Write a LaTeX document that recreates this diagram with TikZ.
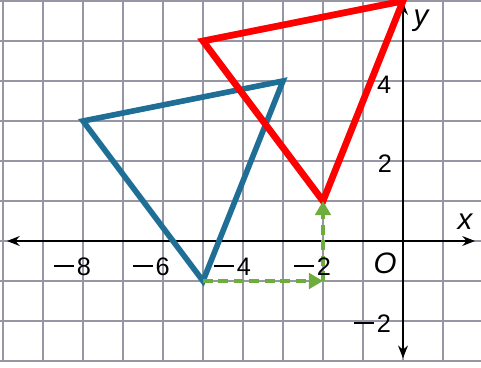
\documentclass[tikz,border=0pt]{standalone}
\usepackage{fontspec}
\setmainfont{Liberation Sans}
\usetikzlibrary{arrows.meta}
\definecolor{gridgray}{RGB}{150,150,165}
\definecolor{triblue}{RGB}{30,110,150}
\definecolor{trired}{RGB}{255,0,0}
\definecolor{arrgreen}{RGB}{110,172,60}
\newcommand{\mn}{\rule[5.4pt]{14pt}{2pt}\kern2pt}
\tikzset{
  gridline/.style={gridgray, line width=1pt},
  axis/.style={black, line width=1pt, -{Stealth[length=9pt,width=7pt]}},
  lbl/.style={font=\fontsize{18}{21}\selectfont, inner sep=0pt, anchor=base},
  ilbl/.style={font=\fontsize{21}{24}\selectfont\itshape, inner sep=0pt, anchor=base},
  blutri/.style={triblue, line width=4pt, line join=miter},
  redtri/.style={trired, line width=4.8pt, line join=miter},
  movearrow/.style={arrgreen, line width=2.5pt, dash pattern=on 7pt off 4pt, -{Triangle[length=10pt,width=11pt]}}
}
\begin{document}
\begin{tikzpicture}[x=1cm,y=1cm]
\useasboundingbox (-10.075,-3.175) rectangle (1.95,6.025);
\fill[white] (-10.075,-3.175) rectangle (1.95,6.025);
\begin{scope}
\clip (-10.075,-3.175) rectangle (1.95,6.025);
\foreach \i in {-10,...,1} \draw[gridline] (\i,-3) -- (\i,6.1);
\foreach \j in {-3,...,6} \draw[gridline] (-10.1,\j) -- (2,\j);
\end{scope}
% axes
\coordinate (xl) at (-9.9,0);
\coordinate (xr) at (1.8,0);
\coordinate (yb) at (0,-2.93);
\coordinate (yt) at (0,5.97);
\draw[axis] (0,0) -- (xl);
\draw[axis] (0,0) -- (xr);
\draw[axis] (0,0) -- (yb);
\draw[axis] (0,0) -- (yt);
% blue triangle
\coordinate (A) at (-8,3);
\coordinate (B) at (-3,4);
\coordinate (C) at (-5,-1);
\draw[blutri] (A) -- (B) -- (C) -- cycle;
% red triangle
\coordinate (A2) at (-5,5);
\coordinate (B2) at (0,6);
\coordinate (C2) at (-2,1);
\draw[redtri] (A2) -- (B2) -- (C2) -- cycle;
% translation arrows
\coordinate (M) at (-2,-1);
\draw[movearrow] (C) -- (M);
\draw[movearrow] (M) -- (C2);
% labels
\node[lbl] (l8) at (-8.26,-0.85) {\mn 8};
\node[lbl] (l6) at (-6.29,-0.85) {\mn 6};
\node[lbl] (l4) at (-4.26,-0.85) {\mn 4};
\node[lbl] (l2) at (-2.26,-0.85) {\mn 2};
\node[ilbl] (lo) at (-0.45,-0.8) {O};
\node[lbl] (ly4) at (-0.47,3.7) {4};
\node[lbl] (ly2) at (-0.45,1.725) {2};
\node[lbl] (lym2) at (-0.76,-2.275) {\mn 2};
\node[ilbl] (lx) at (1.55,0.3) {x};
\node[ilbl] (ly) at (0.45,5.4) {y};
\end{tikzpicture}
\end{document}
